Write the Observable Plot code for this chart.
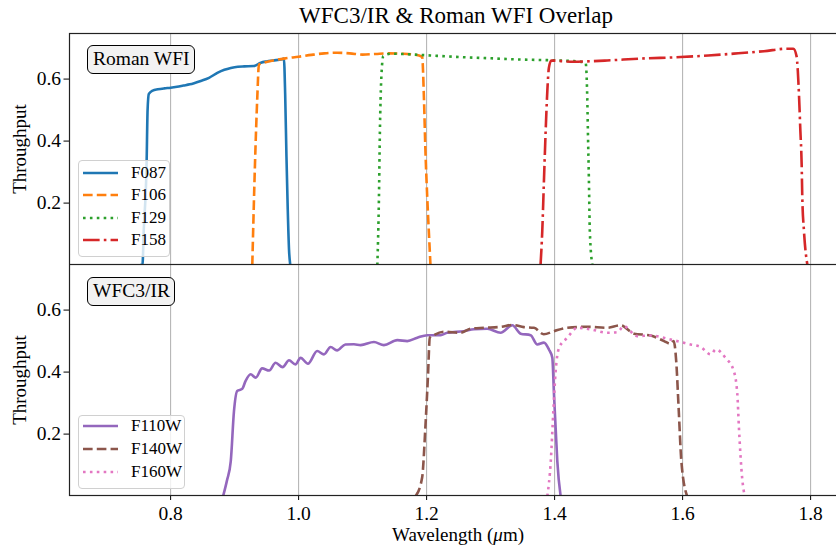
<!DOCTYPE html>
<html>
<head>
<meta charset="utf-8">
<script src="https://cdn.jsdelivr.net/npm/d3@7"></script>
<script src="https://cdn.jsdelivr.net/npm/@observablehq/plot@0.6"></script>
<style>
  body { margin: 0; background: #fff; }
  #wrap { position: relative; width: 836px; height: 550px; overflow: hidden; font-family: "Liberation Serif", "DejaVu Serif", serif; color: #000; }
  #wrap > svg { display: block; max-width: none !important; height: auto; }
  .title { position: absolute; top: 3px; left: 69px; width: 774px; text-align: center; font-size: 23px; line-height: 26px; white-space: nowrap; }
  .ylab { position: absolute; font-size: 19px; white-space: nowrap; transform: translate(-50%, -50%) rotate(-90deg); }
  .xlab { position: absolute; font-size: 19px; white-space: nowrap; transform: translate(-50%, -50%); }
  .tag { position: absolute; border: 1.3px solid #000; border-radius: 6px; background: #f2f2f2; font-size: 19.5px; line-height: 26px; padding: 0 5px; white-space: nowrap; box-sizing: border-box; }
  .legend { position: absolute; background: rgba(255,255,255,0.8); border: 1px solid #d0d0d0; border-radius: 4px; box-sizing: border-box; }
  .legend .row { position: absolute; left: 0; height: 20px; display: flex; align-items: center; font-size: 17px; white-space: nowrap; }
  .legend svg { margin-left: 4px; margin-right: 12px; }
</style>
</head>
<body>
<div id="wrap"></div>
<script>
// ---- data ----
const xTicks = [0.8, 1.0, 1.2, 1.4, 1.6, 1.8];
const yTicks = [0.2, 0.4, 0.6];

// Roman WFI
const f087_wl = [0.752,0.756,0.758,0.7625,0.764,0.766,0.772,0.78,0.79,0.80,0.81,0.82,0.83,0.847,0.86,0.873,0.884,0.894,0.905,0.915,0.93,0.941,0.95,0.96,0.974,0.977,0.979,0.981,0.983,0.985,0.987];
const f087_tp = [0,0,0.11,0.33,0.50,0.552,0.563,0.567,0.570,0.572,0.575,0.579,0.583,0.594,0.604,0.620,0.630,0.636,0.640,0.641,0.642,0.653,0.657,0.660,0.664,0.666,0.55,0.35,0.18,0.05,0];

const f106_wl = [0.9276,0.9318,0.9354,0.938,0.945,0.96,0.98,1.0,1.02,1.04,1.06,1.08,1.10,1.12,1.14,1.16,1.18,1.193,1.1958,1.198,1.201,1.2047,1.206];
const f106_tp = [0,0.325,0.54,0.647,0.652,0.660,0.667,0.672,0.678,0.683,0.685,0.683,0.679,0.681,0.683,0.682,0.679,0.672,0.54,0.378,0.217,0.056,0];

const f129_wl = [1.123,1.1255,1.127,1.129,1.1323,1.144,1.17,1.206,1.253,1.30,1.347,1.389,1.43,1.4484,1.451,1.452,1.4536,1.455,1.459];
const f129_tp = [0,0.217,0.432,0.594,0.674,0.682,0.680,0.676,0.671,0.667,0.663,0.661,0.658,0.653,0.54,0.432,0.271,0.11,0];

const f158_wl = [1.378,1.3807,1.3833,1.386,1.3886,1.391,1.3948,1.41,1.43,1.45,1.482,1.534,1.597,1.64,1.68,1.727,1.7636,1.773,1.778,1.780,1.782,1.784,1.786,1.787,1.7896,1.795];
const f158_tp = [0,0.11,0.271,0.432,0.561,0.636,0.660,0.658,0.656,0.657,0.660,0.666,0.671,0.676,0.682,0.690,0.698,0.698,0.674,0.626,0.54,0.432,0.325,0.217,0.11,0];

// WFC3/IR
const f110w_wl = [0.882,0.888,0.894,0.899,0.904,0.912,0.917,0.925,0.933,0.943,0.954,0.964,0.975,0.985,0.995,1.003,1.0146,1.029,1.0396,1.05,1.06,1.073,1.0864,1.0969,1.1177,1.1333,1.1542,1.1698,1.1855,1.2011,1.2219,1.2323,1.2583,1.2739,1.2948,1.3156,1.3339,1.3469,1.3625,1.373,1.3833,1.3911,1.3964,1.399,1.4016,1.4042,1.4094];
const f110w_tp = [0,0.05,0.113,0.274,0.339,0.346,0.371,0.393,0.382,0.412,0.405,0.430,0.416,0.438,0.425,0.446,0.427,0.468,0.457,0.481,0.470,0.489,0.490,0.487,0.497,0.487,0.503,0.500,0.511,0.519,0.519,0.527,0.532,0.538,0.540,0.527,0.551,0.524,0.519,0.489,0.495,0.473,0.446,0.328,0.220,0.113,0];

const f140w_wl = [1.1828,1.193,1.198,1.202,1.205,1.211,1.227,1.253,1.269,1.2896,1.316,1.334,1.352,1.3677,1.383,1.399,1.42,1.451,1.482,1.503,1.524,1.55,1.571,1.581,1.586,1.590,1.594,1.598,1.607];
const f140w_tp = [0,0.06,0.22,0.382,0.511,0.519,0.530,0.527,0.540,0.543,0.546,0.552,0.545,0.543,0.522,0.532,0.543,0.546,0.543,0.551,0.524,0.518,0.500,0.491,0.500,0.435,0.274,0.113,0];

const f160w_wl = [1.3886,1.394,1.398,1.4016,1.407,1.42,1.4355,1.456,1.482,1.498,1.508,1.529,1.55,1.581,1.6125,1.628,1.644,1.652,1.667,1.68,1.6855,1.688,1.693,1.697];
const f160w_tp = [0,0.113,0.274,0.403,0.478,0.511,0.543,0.538,0.527,0.529,0.548,0.516,0.518,0.505,0.489,0.481,0.457,0.473,0.446,0.403,0.328,0.220,0.059,0];

const romanNames = ["F087", "F106", "F129", "F158"];
const romanColors = ["#1f77b4", "#ff7f0e", "#2ca02c", "#d62728"];
const wfc3Names = ["F110W", "F140W", "F160W"];
const wfc3Colors = ["#9467bd", "#8c564b", "#e377c2"];

// ---- styling ----
const LW = 2.6;
const dashes = ["none", `${3.7*LW},${1.6*LW}`, `${1*LW},${1.65*LW}`, `${6.4*LW},${1.6*LW},${1*LW},${1.6*LW}`];

function toRows(wl, tp) { return wl.map((w, i) => ({wl: w, tp: tp[i]})); }
const romanSeries = [toRows(f087_wl, f087_tp), toRows(f106_wl, f106_tp), toRows(f129_wl, f129_tp), toRows(f158_wl, f158_tp)];
const wfc3Series = [toRows(f110w_wl, f110w_tp), toRows(f140w_wl, f140w_tp), toRows(f160w_wl, f160w_tp)];

const xDomain = [0.642, 0.642 + 774 / 640];
const yDomain = [0.002, 0.747];
const W = 845, ML = 69, MR = 2;

function lineMarks(series, colors) {
  return series.map((d, i) => Plot.line(d, {
    x: "wl", y: "tp", stroke: colors[i], strokeWidth: LW,
    strokeDasharray: dashes[i], strokeLinecap: "butt", strokeLinejoin: "round",
    curve: "monotone-x", clip: true
  }));
}

const common = {
  width: W, marginLeft: ML, marginRight: MR,
  style: {fontFamily: "'Liberation Serif', 'DejaVu Serif', serif", fontSize: "19.5px", background: "transparent", color: "#000", maxWidth: "none"},
};

const topPlot = Plot.plot({
  ...common,
  height: 264, marginTop: 33, marginBottom: 0,
  x: {domain: xDomain, axis: null},
  y: {domain: yDomain, ticks: yTicks, tickFormat: d => d.toFixed(1), tickSize: 5.5, tickPadding: 3, label: null},
  marks: [
    Plot.gridX(xTicks, {stroke: "#b0b0b0", strokeOpacity: 1, strokeWidth: 1}),
    ...lineMarks(romanSeries, romanColors),
    Plot.frame({stroke: "#222", strokeWidth: 1.2})
  ]
});

const botPlot = Plot.plot({
  ...common,
  height: 286, marginTop: 0, marginBottom: 55,
  x: {domain: xDomain, ticks: xTicks, tickFormat: d => d.toFixed(1), tickSize: 5, tickPadding: 6, label: null},
  y: {domain: yDomain, ticks: yTicks, tickFormat: d => d.toFixed(1), tickSize: 5.5, tickPadding: 3, label: null},
  marks: [
    Plot.gridX(xTicks, {stroke: "#b0b0b0", strokeOpacity: 1, strokeWidth: 1}),
    ...lineMarks(wfc3Series, wfc3Colors),
    Plot.frame({stroke: "#222", strokeWidth: 1.2})
  ]
});

const wrap = document.getElementById("wrap");
for (const p of [topPlot, botPlot]) {
  p.style.maxWidth = "none";
  p.style.width = W + "px";
  wrap.appendChild(p);
}

function addDiv(cls, html, css) {
  const d = document.createElement("div");
  d.className = cls;
  d.innerHTML = html;
  Object.assign(d.style, css);
  wrap.appendChild(d);
  return d;
}

addDiv("title", "WFC3/IR &amp; Roman WFI Overlap", {});
addDiv("ylab", "Throughput", {left: "20px", top: "149px"});
addDiv("ylab", "Throughput", {left: "20px", top: "380px"});
addDiv("xlab", "Wavelength (<i>μ</i>m)", {left: "458px", top: "535px"});
addDiv("tag", "Roman WFI", {left: "87px", top: "45px", width: "108px", height: "29px"});
addDiv("tag", "WFC3/IR", {left: "87px", top: "277px", width: "88px", height: "29px"});

function legend(names, colors, box, rowYs) {
  const lg = addDiv("legend", "", {left: box.x + "px", top: box.y + "px", width: box.w + "px", height: box.h + "px"});
  names.forEach((n, i) => {
    const r = document.createElement("div");
    r.className = "row";
    r.style.top = (rowYs[i] - box.y - 10 - 1) + "px";
    r.innerHTML = `<svg width="36" height="10"><line x1="0" x2="35" y1="5" y2="5" stroke="${colors[i]}" stroke-width="${LW}" stroke-dasharray="${dashes[i]}" stroke-linecap="butt"/></svg><span>${n}</span>`;
    lg.appendChild(r);
  });
}
legend(romanNames, romanColors, {x: 78, y: 160, w: 92, h: 97}, [172.5, 195, 217.5, 240]);
legend(wfc3Names, wfc3Colors, {x: 78, y: 415, w: 107, h: 74}, [426, 449, 471.5]);
</script>
</body>
</html>
